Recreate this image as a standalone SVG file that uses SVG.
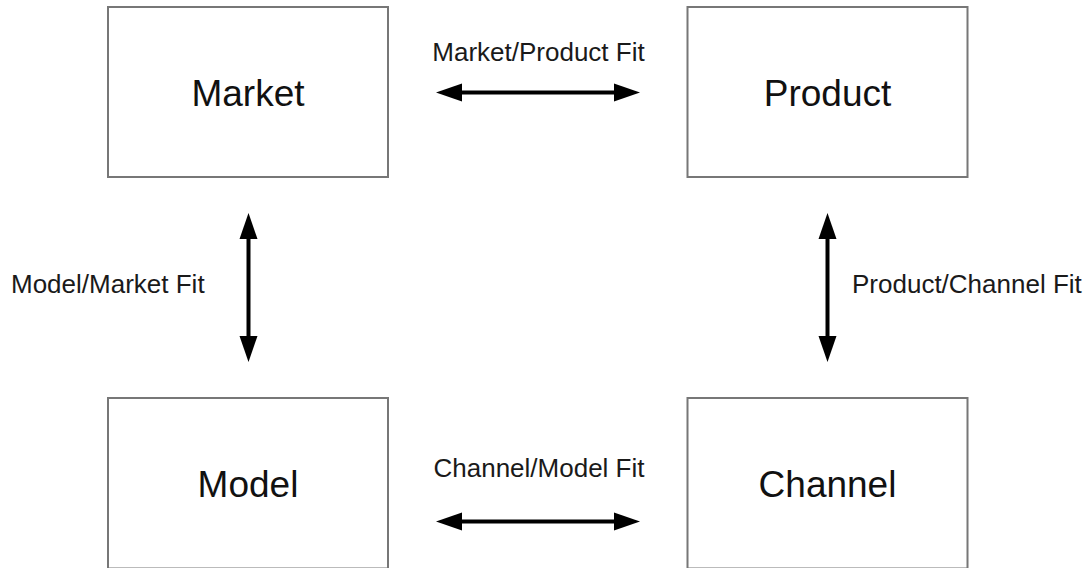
<svg xmlns="http://www.w3.org/2000/svg" width="1089" height="568" viewBox="0 0 1089 568">
  <style>
    .box { fill: #ffffff; stroke: #777777; stroke-width: 2; }
    .title { font-family: "Liberation Sans", Arial, sans-serif; font-size: 37px; fill: #111111; text-anchor: middle; }
    .fit { font-family: "Liberation Sans", Arial, sans-serif; font-size: 26px; fill: #1a1a1a; }
    .link { stroke: #000000; stroke-width: 4; fill: none; marker-start: url(#head); marker-end: url(#head); }
  </style>
  <defs>
    <!-- solid triangular arrowhead, base sits on the line end -->
    <marker id="head" markerUnits="userSpaceOnUse" markerWidth="26" markerHeight="18" refX="0" refY="9" orient="auto-start-reverse" overflow="visible">
      <path d="M0,0 L26,9 L0,18 Z" fill="#000000"/>
    </marker>
  </defs>

  <rect width="1089" height="568" fill="#ffffff"/>

  <g id="market">
    <rect class="box" x="108" y="7" width="280" height="170"/>
    <text class="title" x="248" y="106">Market</text>
  </g>

  <g id="product">
    <rect class="box" x="687.5" y="7" width="280" height="170"/>
    <text class="title" x="827.5" y="106">Product</text>
  </g>

  <g id="model">
    <rect class="box" x="108" y="398" width="280" height="170.5"/>
    <text class="title" x="248" y="497">Model</text>
  </g>

  <g id="channel">
    <rect class="box" x="687.5" y="398" width="280" height="170.5"/>
    <text class="title" x="827.5" y="497">Channel</text>
  </g>

  <g id="connectors">
    <line class="link" x1="462" y1="92.5" x2="614" y2="92.5"/>
    <line class="link" x1="462" y1="521.5" x2="614" y2="521.5"/>
    <line class="link" x1="248.5" y1="239" x2="248.5" y2="336"/>
    <line class="link" x1="827.5" y1="239" x2="827.5" y2="336"/>
    <text class="fit" x="538.5" y="61" text-anchor="middle">Market/Product Fit</text>
    <text class="fit" x="539" y="477" text-anchor="middle">Channel/Model Fit</text>
    <text class="fit" x="11" y="293">Model/Market Fit</text>
    <text class="fit" x="852" y="293">Product/Channel Fit</text>
  </g>
</svg>
